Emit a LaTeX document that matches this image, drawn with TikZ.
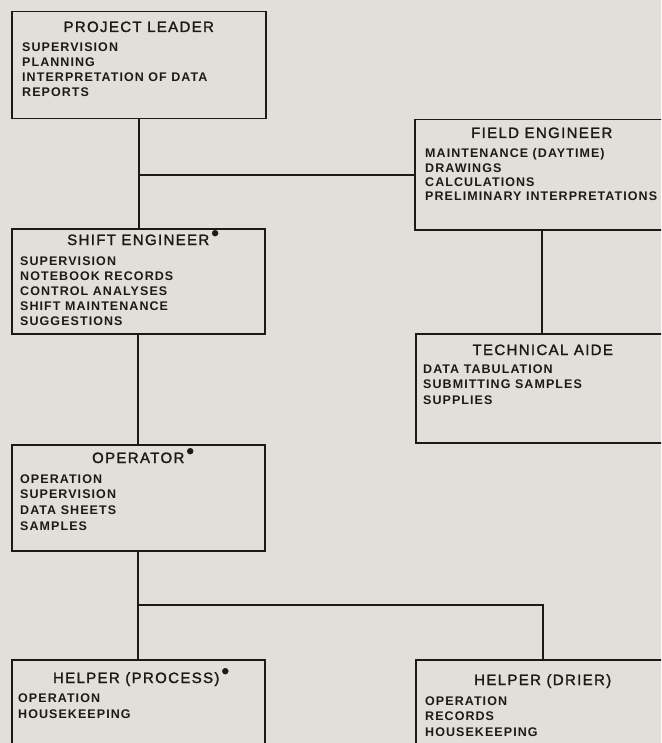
\documentclass[tikz,border=0pt]{standalone}
\usepackage{fontspec}
\setmainfont{Liberation Sans}
\newfontfamily\headfont{Liberation Sans}[LetterSpace=9,FakeBold=1.6]
\newfontfamily\dutyfont{Liberation Sans Bold}[LetterSpace=8.5]
\usetikzlibrary{calc}

\definecolor{paper}{RGB}{225,223,216}
\definecolor{ink}{RGB}{28,26,24}

\tikzset{
  unit/.style={draw=ink, line width=1.5pt, rectangle, inner sep=0pt, anchor=north west},
  head/.style={anchor=base, inner sep=0pt, text=ink, font=\headfont\fontsize{15}{17}\selectfont},
  duty/.style={anchor=base west, inner sep=0pt, text=ink, font=\dutyfont\fontsize{12.5}{14}\selectfont},
  link/.style={draw=ink, line width=1.8pt},
}

% raised dot after a title, kept out of the centring width
\newcommand\footdot{\rlap{\hspace{2pt}\raisebox{4.5pt}{\fontsize{22}{22}\selectfont\textbullet}}}

% list of duties: box name, x inset, first baseline, line spacing, items
\newcommand\duties[5]{%
  \foreach \d [count=\i from 0] in {#5}
    {\node[duty] (#1-d\i) at ($(#1.north west)+(#2,#3+#4*\i)$) {\d};}%
}

\begin{document}
\begin{tikzpicture}[x=1pt,y=-1pt]
  \useasboundingbox (0,0) rectangle (661,743);
  \fill[paper] (0,0) rectangle (661,743);
  \clip (0,0) rectangle (661,743);

  % boxes
  \node[unit, minimum width=254pt, minimum height=107pt] (pl) at (11,11) {};
  \node[unit, minimum width=254pt, minimum height=110pt] (fe) at (414,119) {};
  \node[unit, minimum width=253pt, minimum height=105pt] (se) at (11,228) {};
  \node[unit, minimum width=254pt, minimum height=109pt] (ta) at (415,333) {};
  \node[unit, minimum width=253pt, minimum height=106pt] (op) at (11,444) {};
  \node[unit, minimum width=253pt, minimum height=110pt] (hp) at (11,659) {};
  \node[unit, minimum width=254pt, minimum height=110pt] (hd) at (415,659) {};

  % titles
  \node[head] (pl-t) at ($(pl.north)+(0,21)$) {PROJECT LEADER};
  \node[head] (fe-t) at ($(fe.north)+(0,19)$) {FIELD ENGINEER};
  \node[head] (se-t) at ($(se.north)+(0,17)$) {SHIFT ENGINEER\footdot};
  \node[head] (ta-t) at ($(ta.north)+(0,22)$) {TECHNICAL AIDE};
  \node[head] (op-t) at ($(op.north)+(0,19)$) {OPERATOR\footdot};
  \node[head] (hp-t) at ($(hp.north)+(-2,24)$) {HELPER (PROCESS)\footdot};
  \node[head] (hd-t) at ($(hd.north)+(0,26)$) {HELPER (DRIER)};

  % duties
  \duties{pl}{11}{41}{15}{SUPERVISION,PLANNING,INTERPRETATION OF DATA,REPORTS}
  \duties{fe}{11}{39}{14.3}{MAINTENANCE (DAYTIME),DRAWINGS,CALCULATIONS,PRELIMINARY INTERPRETATIONS}
  \duties{se}{9}{37}{15.2}{SUPERVISION,NOTEBOOK RECORDS,CONTROL ANALYSES,SHIFT MAINTENANCE,SUGGESTIONS}
  \duties{ta}{8}{40}{15.5}{DATA TABULATION,SUBMITTING SAMPLES,SUPPLIES}
  \duties{op}{9}{39}{15.7}{OPERATION,SUPERVISION,DATA SHEETS,SAMPLES}
  \duties{hp}{7}{43}{16}{OPERATION,HOUSEKEEPING}
  \duties{hd}{10}{46}{15.5}{OPERATION,RECORDS,HOUSEKEEPING}

  % connectors
  \coordinate (j1) at (pl.south |- fe.west);
  \draw[link] (pl.south) -- (pl.south |- se.north);
  \draw[link] (j1) -- (fe.west);
  \draw[link] (fe.south) -- (fe.south |- ta.north);
  \draw[link] (se.south) -- (se.south |- op.north);
  \draw[link] (op.south) -- (op.south |- hp.north);
  \coordinate (j2) at ($(op.south)!0.5!(op.south |- hp.north)$);
  \draw[link] (j2) -| (hd.north);
\end{tikzpicture}
\end{document}
